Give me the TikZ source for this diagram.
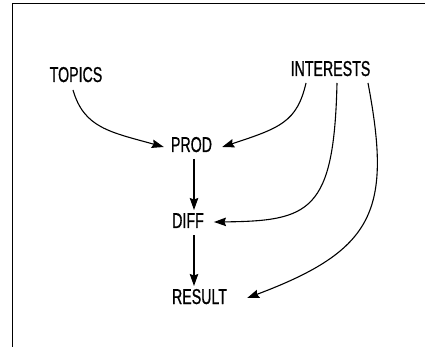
\documentclass[tikz,border=0pt]{standalone}
\usepackage{fontspec}
\setmainfont{Liberation Sans}[FakeStretch=0.66,FakeBold=0.8]
\usetikzlibrary{arrows.meta}
\begin{document}
\begin{tikzpicture}[x=1pt,y=-1pt,
  lbl/.style={anchor=base,inner sep=0pt,font=\fontsize{21.5}{24}\selectfont},
  conn/.style={line width=1.1pt,-{Stealth[length=12pt,width=8.5pt,inset=1.5pt]}},
  frameline/.style={line width=1pt}]
\useasboundingbox (0,0) rectangle (425,347);
\draw[frameline] (12,347) -- (12,4) -- (425,4);
\node[lbl] (topics) at (76,82) {TOPICS};
\node[lbl] (interests) at (330.5,76) {INTERESTS};
\node[lbl] (prod) at (191.5,152) {PROD};
\node[lbl] (diff) at (188,228) {DIFF};
\node[lbl] (result) at (199.5,304) {RESULT};
\draw[conn] ([xshift=-3pt,yshift=-8pt]topics.base) .. controls (84,128) and (110,132) .. ([xshift=-7pt,yshift=5pt]prod.base west);
\draw[conn] ([xshift=-24.5pt,yshift=-7pt]interests.base) .. controls (297,122) and (280,128) .. ([xshift=10pt,yshift=5pt]prod.base east);
\draw[conn] ([xshift=6.5pt,yshift=-7pt]interests.base) .. controls (334,212) and (310,221) .. ([xshift=10pt,yshift=6pt]diff.base east);
\draw[conn] ([xshift=37.5pt,yshift=-7pt]interests.base) .. controls (392,210) and (375,250) .. ([xshift=20pt,yshift=6pt]result.base east);
\draw[conn] ([xshift=2.5pt,yshift=-7pt]prod.base) -- ([xshift=6pt,yshift=18pt]diff.base);
\draw[conn] ([xshift=6pt,yshift=-7pt]diff.base) -- ([xshift=-5.5pt,yshift=18pt]result.base);
\end{tikzpicture}
\end{document}
